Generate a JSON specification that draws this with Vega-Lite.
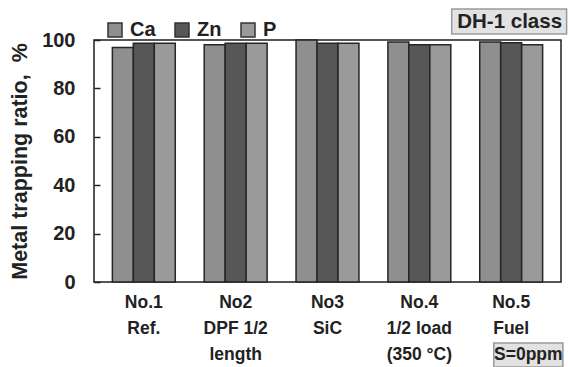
{
  "$schema": "https://vega.github.io/schema/vega-lite/v6.json",
  "autosize": {"type": "none"},
  "width": 467,
  "height": 242,
  "padding": {"left": 94, "top": 40, "right": 7, "bottom": 85},
  "background": "white",
  "config": {
    "view": {"stroke": "#1e1e1e", "strokeWidth": 1.5},
    "font": "Liberation Sans",
    "axis": {"labelFont": "Liberation Sans", "titleFont": "Liberation Sans", "labelFontWeight": "bold", "titleFontWeight": "bold", "labelColor": "#222", "titleColor": "#222"}
  },
  "datasets": {
    "bars": [
      {"group": "No.1|Ref.", "metal": "Ca", "ratio": 96.9},
      {"group": "No.1|Ref.", "metal": "Zn", "ratio": 98.7},
      {"group": "No.1|Ref.", "metal": "P", "ratio": 98.7},
      {"group": "No2|DPF 1/2|length", "metal": "Ca", "ratio": 98.0},
      {"group": "No2|DPF 1/2|length", "metal": "Zn", "ratio": 98.7},
      {"group": "No2|DPF 1/2|length", "metal": "P", "ratio": 98.7},
      {"group": "No3|SiC", "metal": "Ca", "ratio": 100},
      {"group": "No3|SiC", "metal": "Zn", "ratio": 98.7},
      {"group": "No3|SiC", "metal": "P", "ratio": 98.7},
      {"group": "No.4|1/2 load|(350 °C)", "metal": "Ca", "ratio": 99.2},
      {"group": "No.4|1/2 load|(350 °C)", "metal": "Zn", "ratio": 98.0},
      {"group": "No.4|1/2 load|(350 °C)", "metal": "P", "ratio": 98.0},
      {"group": "No.5|Fuel", "metal": "Ca", "ratio": 99.2},
      {"group": "No.5|Fuel", "metal": "Zn", "ratio": 98.9},
      {"group": "No.5|Fuel", "metal": "P", "ratio": 98.0}
    ],
    "notes": [
      {"note": "DH-1 class"},
      {"note": "S=0ppm"}
    ]
  },
  "layer": [
    {
      "data": {"name": "bars"},
      "mark": {"type": "bar", "stroke": "#262626", "strokeWidth": 1.5},
      "encoding": {
        "x": {
          "field": "group", "type": "nominal", "sort": null,
          "scale": {"paddingInner": 0.315},
          "axis": {
            "title": null, "labelAngle": 0, "ticks": false, "domain": false,
            "labelExpr": "split(datum.label, '|')",
            "labelFontSize": 17.5, "labelLineHeight": 26, "labelPadding": 11,
            "labelBaseline": "top"
          }
        },
        "xOffset": {"field": "metal", "type": "nominal", "sort": ["Ca", "Zn", "P"]},
        "y": {
          "field": "ratio", "type": "quantitative",
          "scale": {"domain": [0, 100], "nice": false},
          "axis": {
            "title": "Metal trapping ratio,\u00a0\u00a0%", "values": [0, 20, 40, 60, 80, 100],
            "grid": false, "domain": false, "tickSize": -6, "tickWidth": 1.5, "tickColor": "#222",
            "labelFontSize": 20, "labelPadding": 25, "titleFontSize": 21.5, "titlePadding": 10
          }
        },
        "color": {
          "field": "metal", "type": "nominal",
          "scale": {"domain": ["Ca", "Zn", "P"], "range": ["#8f8f8f", "#575757", "#9a9a9a"]},
          "legend": {
            "title": null, "orient": "none", "direction": "horizontal",
            "legendX": 11, "legendY": -20,
            "symbolType": "square", "symbolSize": 196, "symbolStrokeColor": "#333", "symbolStrokeWidth": 1.5,
            "labelFont": "Liberation Sans", "labelFontWeight": "bold", "labelFontSize": 20, "labelColor": "#222",
            "labelOffset": 5, "columnPadding": 16
          }
        }
      }
    },
    {
      "data": {"name": "notes"},
      "transform": [{"filter": "datum.note == 'DH-1 class'"}],
      "mark": {"type": "rect", "fill": "#e2e2e2", "stroke": "#9a9a9a", "strokeWidth": 1.5},
      "encoding": {
        "x": {"datum": 3.83, "type": "quantitative", "scale": {"domain": [0, 5], "nice": false}, "axis": null},
        "x2": {"datum": 5.06},
        "y": {"datum": 112.8, "type": "quantitative", "scale": {"domain": [0, 100], "nice": false}, "axis": null},
        "y2": {"datum": 102.5}
      }
    },
    {
      "data": {"name": "notes"},
      "transform": [{"filter": "datum.note == 'DH-1 class'"}],
      "mark": {"type": "text", "font": "Liberation Sans", "fontWeight": "bold", "fontSize": 20.5, "color": "#222", "align": "center", "baseline": "middle"},
      "encoding": {
        "text": {"field": "note"},
        "x": {"datum": 4.45, "type": "quantitative", "scale": {"domain": [0, 5], "nice": false}, "axis": null},
        "y": {"datum": 107.6, "type": "quantitative", "scale": {"domain": [0, 100], "nice": false}, "axis": null}
      }
    },
    {
      "data": {"name": "notes"},
      "transform": [{"filter": "datum.note == 'S=0ppm'"}],
      "mark": {"type": "rect", "fill": "#e2e2e2", "stroke": "#9a9a9a", "strokeWidth": 1.5},
      "encoding": {
        "x": {"datum": 4.28, "type": "quantitative", "scale": {"domain": [0, 5], "nice": false}, "axis": null},
        "x2": {"datum": 5.02},
        "y": {"datum": -25.2, "type": "quantitative", "scale": {"domain": [0, 100], "nice": false}, "axis": null},
        "y2": {"datum": -35.1}
      }
    },
    {
      "data": {"name": "notes"},
      "transform": [{"filter": "datum.note == 'S=0ppm'"}],
      "mark": {"type": "text", "font": "Liberation Sans", "fontWeight": "bold", "fontSize": 17.5, "color": "#222", "align": "center", "baseline": "middle"},
      "encoding": {
        "text": {"field": "note"},
        "x": {"datum": 4.65, "type": "quantitative", "scale": {"domain": [0, 5], "nice": false}, "axis": null},
        "y": {"datum": -30.2, "type": "quantitative", "scale": {"domain": [0, 100], "nice": false}, "axis": null}
      }
    }
  ],
  "resolve": {"scale": {"x": "independent", "y": "independent"}, "axis": {"x": "independent", "y": "independent"}}
}
